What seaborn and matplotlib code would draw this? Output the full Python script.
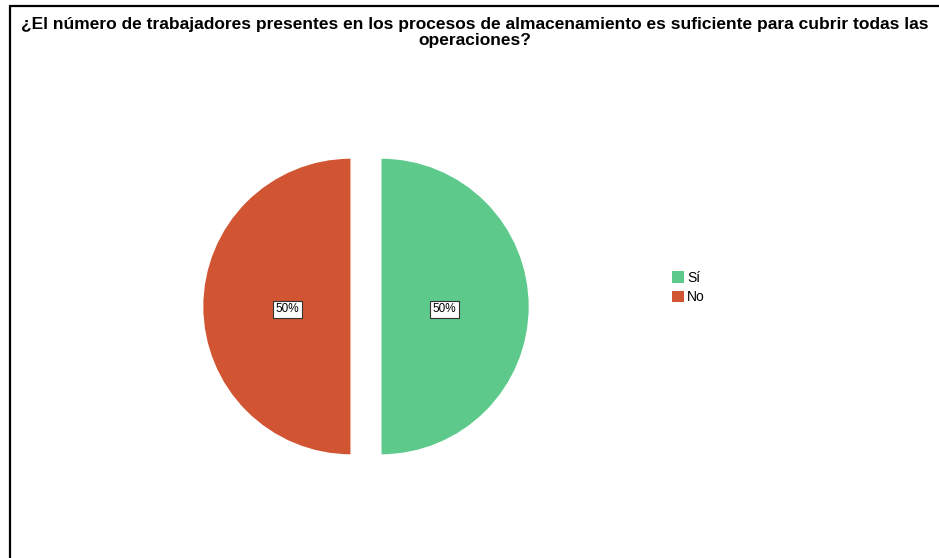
import matplotlib
matplotlib.use("Agg")
import matplotlib.pyplot as plt
from matplotlib.lines import Line2D
from matplotlib.patches import Patch
import seaborn as sns

categories = ["Sí", "No"]
values = [50, 50]
colors = ["#5DCA8B", "#D15533"]
title = "¿El número de trabajadores presentes en los procesos de almacenamiento es suficiente para cubrir todas las\noperaciones?"

sns.set_theme(style="white")
plt.rcParams['font.family'] = ['Liberation Sans', 'DejaVu Sans']
plt.rcParams['text.color'] = 'black'

W, H = 939, 558
fig = plt.figure(figsize=(W / 100, H / 100), dpi=100)
fig.patch.set_facecolor("white")

# frame lines (top and left)
fig.add_artist(Line2D([10 / W, 1], [1 - 6 / H, 1 - 6 / H], color="black", lw=1.6, transform=fig.transFigure))
fig.add_artist(Line2D([10 / W, 10 / W], [0, 1 - 6 / H], color="black", lw=1.6, transform=fig.transFigure))

fig.text(475 / W, 1 - 17 / H, title, ha="center", va="top", fontsize=12.5, fontweight="bold",
         linespacing=1.1, color="black")

cx, cy, r = 366, 306.5, 148.5
half = 200
ax = fig.add_axes([(cx - half) / W, (H - cy - half) / H, 2 * half / W, 2 * half / H])
wedges, texts, autotexts = ax.pie(values, colors=colors, startangle=90, counterclock=False,
                                  explode=[0.1, 0.1], autopct="%1.0f%%", pctdistance=0.43,
                                  textprops=dict(fontsize=8.5, color="black"))
for t in autotexts:
    t.set_y(t.get_position()[1] - 0.02)
    t.set_bbox(dict(facecolor="white", edgecolor="#333333", boxstyle="square,pad=0.22", lw=0.8))
lim = half / r
ax.set_xlim(-lim, lim)
ax.set_ylim(-lim, lim)
ax.set_aspect("equal")
ax.axis("off")

handles = [Patch(facecolor=c, edgecolor="none") for c in colors]
leg = fig.legend(handles, categories, loc="upper left", bbox_to_anchor=(662 / W, 1 - 261 / H),
                 frameon=False, fontsize=10, handlelength=0.85, handleheight=0.9,
                 handletextpad=0.25, labelspacing=0.4, borderpad=0.2)
for t in leg.get_texts():
    t.set_color("black")

fig.savefig("out.png", dpi=100, facecolor="white")
